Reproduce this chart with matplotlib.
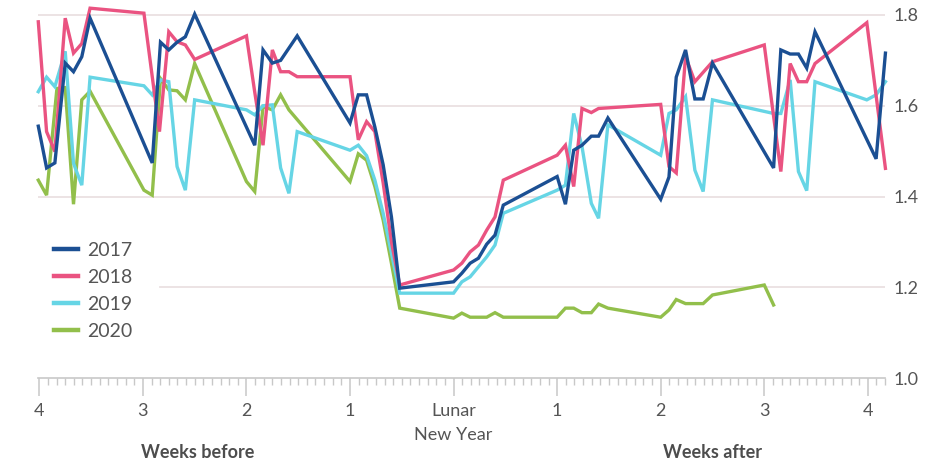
import matplotlib
matplotlib.use("Agg")
import matplotlib.pyplot as plt
import matplotlib.transforms as transforms
from matplotlib.ticker import MultipleLocator

# x positions in weeks relative to Lunar New Year
x_2017 = [-4.01, -3.93, -3.85, -3.75, -3.67, -3.59, -3.51, -2.91, -2.83, -2.75,
          -2.67, -2.59, -2.50, -1.92, -1.84, -1.75, -1.67, -1.51, -1.00, -0.92,
          -0.84, -0.76, -0.68, -0.60, -0.52, 0.00, 0.08, 0.16, 0.24, 0.32,
          0.40, 0.48, 1.00, 1.08, 1.16, 1.24, 1.33, 1.40, 1.49, 2.00,
          2.08, 2.15, 2.24, 2.33, 2.41, 2.50, 3.09, 3.16, 3.25, 3.33,
          3.41, 3.49, 4.08, 4.17]
y_2017 = [1.555, 1.463, 1.474, 1.694, 1.675, 1.708, 1.793, 1.474, 1.740, 1.723,
          1.740, 1.752, 1.802, 1.513, 1.723, 1.694, 1.700, 1.754, 1.562, 1.624,
          1.624, 1.553, 1.470, 1.355, 1.198, 1.212, 1.231, 1.253, 1.264, 1.295,
          1.315, 1.381, 1.444, 1.383, 1.502, 1.513, 1.533, 1.533, 1.573, 1.394,
          1.443, 1.663, 1.723, 1.615, 1.615, 1.694, 1.463, 1.723, 1.714, 1.714,
          1.683, 1.763, 1.483, 1.716]

x_2018 = [-4.01, -3.93, -3.85, -3.75, -3.67, -3.59, -3.51, -2.99, -2.84, -2.75,
          -2.67, -2.59, -2.50, -2.00, -1.92, -1.84, -1.75, -1.67, -1.59, -1.51,
          -1.00, -0.92, -0.84, -0.76, -0.68, -0.60, -0.52, 0.00, 0.08, 0.16,
          0.24, 0.32, 0.40, 0.48, 1.00, 1.08, 1.16, 1.24, 1.33, 1.40,
          2.00, 2.08, 2.15, 2.24, 2.33, 2.50, 3.00, 3.16, 3.25, 3.33,
          3.41, 3.49, 3.99, 4.17]
y_2018 = [1.785, 1.543, 1.499, 1.793, 1.716, 1.737, 1.815, 1.804, 1.543, 1.763,
          1.741, 1.734, 1.702, 1.754, 1.630, 1.513, 1.723, 1.675, 1.675, 1.664,
          1.664, 1.525, 1.565, 1.543, 1.430, 1.300, 1.205, 1.238, 1.253, 1.278,
          1.293, 1.326, 1.355, 1.436, 1.491, 1.513, 1.422, 1.594, 1.585, 1.594,
          1.603, 1.466, 1.452, 1.708, 1.653, 1.697, 1.734, 1.455, 1.693, 1.653,
          1.653, 1.693, 1.783, 1.462]

x_2019 = [-4.01, -3.93, -3.85, -3.75, -3.67, -3.59, -3.51, -2.99, -2.91, -2.83,
          -2.75, -2.67, -2.59, -2.50, -2.00, -1.92, -1.84, -1.75, -1.67, -1.59,
          -1.51, -1.00, -0.92, -0.84, -0.76, -0.68, -0.60, -0.52, 0.00, 0.08,
          0.16, 0.24, 0.32, 0.40, 0.48, 1.00, 1.08, 1.16, 1.24, 1.33,
          1.40, 1.49, 2.00, 2.08, 2.15, 2.24, 2.33, 2.41, 2.50, 3.09,
          3.16, 3.25, 3.33, 3.41, 3.49, 3.99, 4.08, 4.17]
y_2019 = [1.631, 1.663, 1.642, 1.720, 1.473, 1.425, 1.663, 1.644, 1.624, 1.657,
          1.653, 1.466, 1.414, 1.613, 1.591, 1.580, 1.600, 1.602, 1.463, 1.407,
          1.543, 1.502, 1.513, 1.490, 1.436, 1.363, 1.275, 1.187, 1.187, 1.212,
          1.223, 1.245, 1.267, 1.293, 1.363, 1.414, 1.425, 1.583, 1.510, 1.385,
          1.352, 1.558, 1.491, 1.583, 1.591, 1.620, 1.458, 1.411, 1.613, 1.583,
          1.583, 1.657, 1.455, 1.413, 1.653, 1.613, 1.624, 1.653]

x_2020 = [-4.01, -3.93, -3.83, -3.75, -3.67, -3.59, -3.51, -2.99, -2.91, -2.83,
          -2.75, -2.67, -2.59, -2.50, -2.00, -1.92, -1.84, -1.75, -1.67, -1.59,
          -1.00, -0.92, -0.84, -0.76, -0.68, -0.60, -0.52, 0.00, 0.08, 0.16,
          0.24, 0.32, 0.40, 0.48, 1.00, 1.08, 1.16, 1.24, 1.33, 1.40,
          1.49, 2.00, 2.08, 2.15, 2.24, 2.41, 2.50, 3.00, 3.09]
y_2020 = [1.436, 1.403, 1.638, 1.640, 1.383, 1.613, 1.632, 1.414, 1.403, 1.660,
          1.635, 1.633, 1.613, 1.693, 1.433, 1.411, 1.598, 1.591, 1.624, 1.591,
          1.433, 1.494, 1.480, 1.422, 1.348, 1.253, 1.154, 1.132, 1.143, 1.134,
          1.134, 1.134, 1.144, 1.134, 1.134, 1.154, 1.154, 1.144, 1.144, 1.163,
          1.154, 1.134, 1.150, 1.173, 1.164, 1.164, 1.183, 1.205, 1.161]

series = [
	("2017", x_2017, y_2017, "#1b4f93", 5),
	("2018", x_2018, y_2018, "#ea5381", 4),
	("2019", x_2019, y_2019, "#66d5e5", 3),
	("2020", x_2020, y_2020, "#92bf4b", 2),
]

week_ticks = [-4, -3, -2, -1, 0, 1, 2, 3, 4]
week_labels = ["4", "3", "2", "1", "Lunar\nNew Year", "1", "2", "3", "4"]
grid_values = [1.2, 1.4, 1.6, 1.8]

TEXT_COLOR = "#555555"
GRID_COLOR = "#ebe1e2"
AXIS_COLOR = "#c8c8c8"

plt.rcParams["font.family"] = ["Lato", "DejaVu Sans"]

fig = plt.figure(figsize=(9.34, 4.61), dpi=100)
ax = fig.add_axes([0.041, 0.180, 0.907, 0.817])

for value in grid_values:
	# the legend sits on top of the left part of the lowest gridline
	xmin = 0.144 if value == grid_values[0] else 0
	ax.axhline(value, xmin=xmin, color=GRID_COLOR, lw=1.3, zorder=1)

for label, xs, ys, color, z in series:
	ax.plot(xs, ys, color=color, lw=2.4, label=label, zorder=z,
	        solid_joinstyle="miter", clip_on=False)

ax.set_xlim(-4.01, 4.17)
ax.set_ylim(1.0, 1.83)

for side in ("top", "left", "right"):
	ax.spines[side].set_visible(False)
ax.spines["bottom"].set_color(AXIS_COLOR)
ax.spines["bottom"].set_linewidth(1.2)

ax.set_xticks(week_ticks)
ax.set_xticklabels(week_labels, linespacing=1.65)
ax.xaxis.set_minor_locator(MultipleLocator(1 / 12))
ax.tick_params(axis="x", which="major", length=13, width=1.1,
               color=AXIS_COLOR, pad=5, labelsize=13, labelcolor=TEXT_COLOR)
ax.tick_params(axis="x", which="minor", length=5, width=1.0, color=AXIS_COLOR)

ax.yaxis.tick_right()
ax.set_yticks([1.0] + grid_values)
ax.set_yticklabels(["%.1f" % v for v in [1.0] + grid_values])
ax.tick_params(axis="y", length=0, pad=6, labelsize=13, labelcolor=TEXT_COLOR)

trans = transforms.blended_transform_factory(ax.transData, fig.transFigure)
ax.text(-2.47, 0.018, "Weeks before", transform=trans, ha="center", va="center",
        fontsize=13, fontweight="bold", color="#4d4d4d")
ax.text(2.5, 0.018, "Weeks after", transform=trans, ha="center", va="center",
        fontsize=13, fontweight="bold", color="#4d4d4d")

legend = ax.legend(loc="upper left", bbox_to_anchor=(0.047, 0.497),
                   bbox_transform=fig.transFigure, frameon=False,
                   borderpad=0, handlelength=1.25, handletextpad=0.46,
                   labelspacing=0.52, fontsize=14)
for text in legend.get_texts():
	text.set_color(TEXT_COLOR)
for line in legend.get_lines():
	line.set_linewidth(3.2)

fig.savefig("out.png", dpi=100)
